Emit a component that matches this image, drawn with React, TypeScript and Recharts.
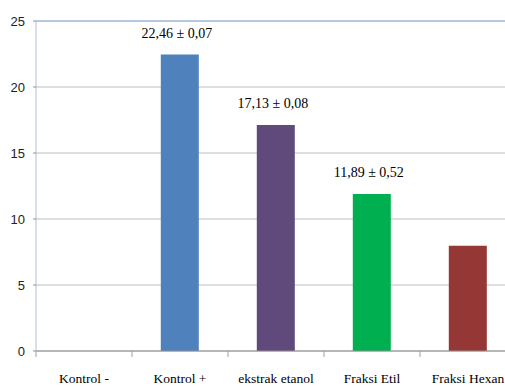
import React from "react";
import { BarChart, Bar, XAxis, YAxis, CartesianGrid, Cell, LabelList, ReferenceLine } from "recharts";

const categories = ["Kontrol -", "Kontrol +", "ekstrak etanol", "Fraksi Etil", "Fraksi Hexan"];
const values = [0, 22.46, 17.13, 11.89, 7.97];
const labels = ["", "22,46 ± 0,07", "17,13 ± 0,08", "11,89 ± 0,52", ""];
const colors = ["#4F81BD", "#4F81BD", "#604A7B", "#00B050", "#953735"];
const yTicks = [0, 5, 10, 15, 20, 25];

const data = categories.map((c, i) => ({ name: c, value: values[i], label: labels[i] }));

const SERIF = "Liberation Serif, Times New Roman, serif";
const SANS = "Liberation Sans, Arial, sans-serif";

const XTick = (props: any) => {
  const { x, y, payload } = props;
  const off = payload && typeof payload.offset === "number" ? payload.offset : 48;
  return (
    <g>
      <line x1={x - off} x2={x - off} y1={y - 8} y2={y - 2} stroke="#A0A0A0" strokeWidth={1} />
      <text
        x={x}
        y={y + 24}
        textAnchor="middle"
        fill="#000"
        style={{ fontFamily: SERIF, fontSize: 13.5, fontWeight: "normal" }}
      >
        {payload.value}
      </text>
    </g>
  );
};

const YTick = (props: any) => {
  const { x, y, payload } = props;
  return (
    <text
      x={x}
      y={y}
      dy={5}
      textAnchor="end"
      fill="#222"
      style={{ fontFamily: SANS, fontSize: 13 }}
    >
      {payload.value}
    </text>
  );
};

const ValueLabel = (props: any) => {
  const { x, y, width, value } = props;
  if (!value) return null;
  return (
    <text
      x={x + width / 2 - 3}
      y={y - 17}
      textAnchor="middle"
      fill="#000"
      style={{ fontFamily: SERIF, fontSize: 14 }}
    >
      {value}
    </text>
  );
};

export default function App() {
  return (
    <div style={{ position: "absolute", left: 0, top: 0, width: 505, height: 387, overflow: "hidden", background: "#fff" }}>
      <BarChart
        width={530}
        height={387}
        data={data}
        margin={{ top: 21, right: 14, bottom: 0, left: 0 }}
        barCategoryGap="30%"
      >
        <CartesianGrid vertical={false} stroke="#BEBEBE" strokeWidth={1} />
        <ReferenceLine y={25} stroke="#A9C0E4" strokeWidth={1.5} />
        <XAxis
          dataKey="name"
          height={36}
          axisLine={{ stroke: "#8E8E8E" }}
          tickLine={false}
          tick={<XTick />}
          interval={0}
        />
        <YAxis
          width={36}
          domain={[0, 25]}
          ticks={yTicks}
          interval={0}
          axisLine={{ stroke: "#B4BFD2" }}
          tickLine={{ stroke: "#8E8E8E" }}
          tickSize={3}
          tickMargin={8}
          tick={<YTick />}
        />
        <Bar dataKey="value" isAnimationActive={false}>
          {data.map((d, i) => (
            <Cell key={d.name} fill={colors[i]} />
          ))}
          <LabelList dataKey="label" content={<ValueLabel />} />
        </Bar>
      </BarChart>
    </div>
  );
}
